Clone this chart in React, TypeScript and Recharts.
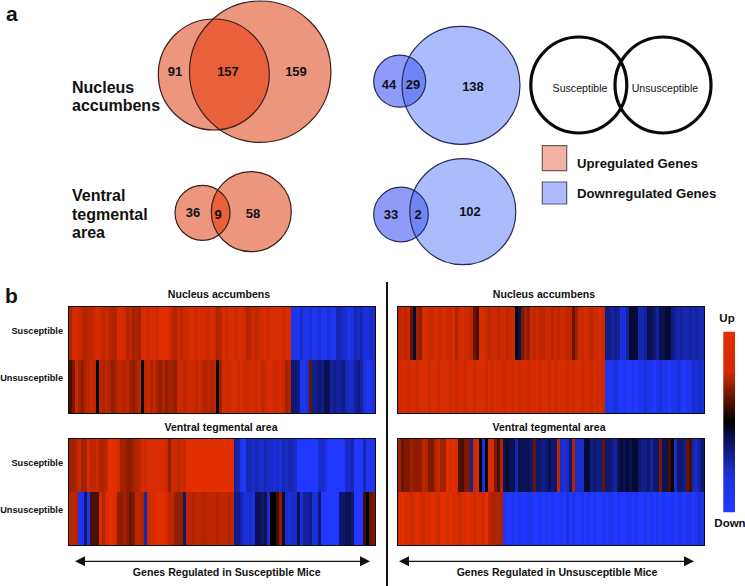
import React from "react";
import {
  BarChart, Bar, Cell, XAxis, YAxis, ScatterChart, Scatter, ReferenceArea, ReferenceLine,
} from "recharts";

// ---------- data ----------
const vennOnlyFirst = [91, 36, 44, 33];
const vennShared = [157, 9, 29, 2];
const vennOnlySecond = [159, 58, 138, 102];
const regionLabels = ["Nucleus accumbens", "Ventral tegmental area"];
const rowLabels = ["Susceptible", "Unsusceptible"];
const legendLabels = ["Upregulated Genes", "Downregulated Genes"];
const axisCaptions = ["Genes Regulated in Susceptible Mice", "Genes Regulated in Unsusceptible Mice"];

const nacSusS = [6,9,9,8,7,6,7,7,8,9,8,7,8,7,6,6,9,9,8,6,7,5,6,5,9,9,8,9,9,8,10,10,10,9,7,6,8,7,8,8,9,9,8,9,9,9,8,9,8,6,7,9,8,9,9,8,9,9,8,6,7,8,7,8,9,9,8,9,9,9,9,8,9,9,
  -9,-9,-9,-7,-9,-9,-8,-9,-9,-8,-9,-9,-8,-9,-9,-6,-6,-7,-8,-9,-8,-6,-7,-6,-8,-8,-7,-7];
const nacSusU = [1,3,8,5,4,6,7,8,7,0,7,6,7,6,4,5,7,7,6,7,5,4,5,7,0,7,8,6,7,5,4,6,4,5,5,4,8,8,7,8,8,8,7,8,7,6,7,6,7,0,5,9,8,8,9,9,8,9,8,8,9,9,8,9,7,8,9,9,8,8,9,8,5,6,
  -3,-3,-4,-9,-9,-8,2,-4,-4,-3,-4,-2,-2,-5,-4,-5,-5,-4,-6,-7,-7,-5,-4,-5,-8,-9,-9,-8];
const vtaSusS = [5,5,6,8,5,5,9,7,7,8,6,6,7,10,10,10,9,5,5,4,4,5,6,7,9,8,9,9,9,9,9,9,8,4,8,8,7,8,8,10,10,10,10,10,10,10,10,10,10,10,10,10,10,10,10,
  -5,-6,-9,-10,-6,-6,-7,-6,-7,-7,-6,-7,-7,-8,-7,-8,-6,-7,-6,-6,-7,-10,-10,-10,-10,-10,-10,-10,-7,-7,-8,-10,-10,-10,-10,-10,-10,-7,-7,-6,-10,-10,-10,-6,-9,-9,-9];
const vtaSusU = [7,7,6,-9,-9,-3,-9,1,1,1,9,6,9,10,10,9,4,4,5,4,2,3,7,7,6,-6,8,9,9,10,10,10,9,7,7,4,4,4,-3,7,7,6,7,7,6,6,7,7,7,6,7,7,7,6,7,
  -4,-4,-6,-8,-8,-7,-8,-2,-2,-3,-2,-7,0,0,1,4,-1,-7,-8,-7,-7,-2,-8,-5,-5,-4,-8,-8,-3,-10,-10,-10,-10,-10,-10,-3,-3,-2,-2,-3,-10,-10,-10,1,0,2,3];
const nacUnsS = [7,8,7,8,2,-1,5,4,9,9,8,8,9,8,8,9,8,8,9,6,8,9,8,8,7,2,1,9,9,8,7,8,8,7,8,8,7,8,8,0,-2,3,5,4,8,7,8,7,7,8,8,7,8,7,8,8,7,7,2,5,8,8,9,8,7,8,8,9,8,
  -4,-4,-5,-4,-5,-8,-8,-5,-1,-1,-1,-6,-6,-5,-2,-2,-3,-5,-2,-2,-1,-1,-4,-5,-6,-5,-6,-6,-5,-6,-5,-6,-6];
const nacUnsU = [8,9,9,8,9,9,8,9,9,9,8,9,9,8,9,9,9,8,9,8,9,9,8,9,9,8,9,9,9,8,9,8,9,9,9,8,9,9,8,9,8,9,9,8,9,9,9,8,9,9,8,9,8,9,9,9,8,9,8,9,9,8,9,9,8,9,8,9,8,
  -9,-9,-9,-8,-9,-10,-9,-10,-10,-9,-10,-9,-9,-8,-9,-9,-10,-9,-8,-9,-9,-10,-9,-9,-8,-9,-10,-9,-9,-7,-8,-7,-8];
const vtaUnsS = [5,2,3,3,5,4,4,4,7,6,3,3,6,8,5,5,10,9,10,9,1,1,3,3,-5,8,9,0,-8,0,9,9,3,1,6,
  -2,-1,-2,-2,-6,-2,-2,-2,-2,-3,2,-3,-3,-4,-3,-2,-3,-3,7,-7,-8,-7,-3,6,-7,-7,-7,-1,-1,-4,-3,-4,-4,2,-3,-3,-4,-5,-2,-1,-2,-1,-2,-1,-1,-3,-4,-4,-3,-5,-3,-3,3,-2,-2,1,0,-7,-3,-3,-4,2,1,-6,-7,-5,-3];
const vtaUnsU = [9,10,9,9,8,9,10,9,8,9,9,10,9,8,10,10,9,10,9,9,8,9,9,10,9,8,9,9,8,10,7,6,6,6,5,
  -9,-10,-10,-9,-10,-9,-10,-10,-9,-9,-10,-10,-9,-10,-9,-10,-9,-10,-10,-9,-10,-8,-10,-9,-10,-10,-9,-10,-9,-10,-9,-10,-10,-9,-10,-9,-9,-10,-9,-10,-10,-9,-9,-10,-9,-10,-10,-9,-10,-9,-10,-9,-10,-9,-10,-10,-9,-10,-9,-9,-10,-9,-9,-10,-9,-8,-9];

// ---------- layout and style ----------
const W = 745;
const H = 586;
const FONT = "'Liberation Sans', Arial, sans-serif";
const UP = { first: "#EC967E", second: "#EC967E", both: "#E8603C", line: "#3a1f18" };
const DOWN = { first: "#8E9BF8", second: "#ABBCFD", both: "#6F84F5", line: "#262c55" };

const vennLayout = [
  { x: 213.8, y: 74.5, r: 55.5, x2: 260.2, y2: 71.7, r2: 70.7, pal: UP, t: [[175, 71], [228, 71], [296, 71]] },
  { x: 202.5, y: 212.8, r: 27.5, x2: 251.3, y2: 211.7, r2: 40, pal: UP, t: [[193, 212], [218, 214], [253, 213]] },
  { x: 399.7, y: 81.2, r: 26, x2: 461, y2: 85.3, r2: 59, pal: DOWN, t: [[389, 84], [413, 84], [473, 86]] },
  { x: 401, y: 214.5, r: 27.3, x2: 462.8, y2: 211.7, r2: 53, pal: DOWN, t: [[391, 214], [418, 214], [470, 211]] },
];

const vennPoints = vennLayout.map((v, i) => ({ ...v, id: i }));

const VennShape = (p: any) => {
  const v = p.payload;
  const clip = `venn-clip-${v.id}`;
  return (
    <g>
      <defs>
        <clipPath id={clip}><circle cx={v.x} cy={v.y} r={v.r} /></clipPath>
      </defs>
      <circle cx={v.x} cy={v.y} r={v.r} fill={v.pal.first} />
      <circle cx={v.x2} cy={v.y2} r={v.r2} fill={v.pal.second} />
      <circle cx={v.x2} cy={v.y2} r={v.r2} fill={v.pal.both} clipPath={`url(#${clip})`} />
      <circle cx={v.x} cy={v.y} r={v.r} fill="none" stroke={v.pal.line} strokeWidth={1.2} />
      <circle cx={v.x2} cy={v.y2} r={v.r2} fill="none" stroke={v.pal.line} strokeWidth={1.2} />
    </g>
  );
};

const RingShape = (p: any) => (
  <circle cx={p.cx} cy={p.cy} r={48} fill="none" stroke="#0a0a0a" strokeWidth={3.2} />
);

const ArrowShape = (p: any) => {
  const { cy } = p;
  const { x1, x2 } = p.payload;
  return (
    <g fill="#111" stroke="none">
      <line x1={x1 + 6} x2={x2 - 6} y1={cy} y2={cy} stroke="#111" strokeWidth={1.2} />
      <polygon points={`${x1},${cy} ${x1 + 10},${cy - 5} ${x1 + 10},${cy + 5}`} />
      <polygon points={`${x2},${cy} ${x2 - 10},${cy - 5} ${x2 - 10},${cy + 5}`} />
    </g>
  );
};

const TextShape = (p: any) => {
  const d = p.payload;
  return (
    <text
      x={p.cx}
      y={p.cy}
      fontFamily={FONT}
      fontSize={d.size}
      fontWeight={d.bold === false ? 400 : 700}
      textAnchor={d.anchor || "middle"}
      fill="#111"
    >
      {d.text}
    </text>
  );
};

const mid = (y: number, size: number) => y + size * 0.36;

const vennTexts = vennLayout.flatMap((v, i) => {
  const vals = [vennOnlyFirst[i], vennShared[i], vennOnlySecond[i]];
  return v.t.map(([x, y], k) => ({ x, y: mid(y, 13), text: String(vals[k]), size: 13 }));
});

const annotations = [
  { x: 6, y: 21, text: "a", size: 21, anchor: "start" },
  { x: 5, y: 303, text: "b", size: 21, anchor: "start" },
  { x: 72, y: 92.5, text: "Nucleus", size: 16, anchor: "start" },
  { x: 72, y: 111, text: "accumbens", size: 16, anchor: "start" },
  { x: 72, y: 201, text: "Ventral", size: 16, anchor: "start" },
  { x: 72, y: 219.5, text: "tegmental", size: 16, anchor: "start" },
  { x: 72, y: 237.5, text: "area", size: 16, anchor: "start" },
  { x: 580, y: mid(88, 10.6), text: rowLabels[0], size: 10.6, bold: false },
  { x: 665, y: mid(88, 10.6), text: rowLabels[1], size: 10.6, bold: false },
  { x: 577, y: 167.5, text: legendLabels[0], size: 13.2, anchor: "start" },
  { x: 577, y: 198, text: legendLabels[1], size: 13.2, anchor: "start" },
  { x: 219, y: mid(294, 10.6), text: regionLabels[0], size: 10.6 },
  { x: 221, y: mid(427, 10.6), text: regionLabels[1], size: 10.6 },
  { x: 544, y: mid(294, 10.6), text: regionLabels[0], size: 10.6 },
  { x: 549, y: mid(427, 10.6), text: regionLabels[1], size: 10.6 },
  { x: 226.7, y: mid(571.7, 10.6), text: axisCaptions[0], size: 10.6 },
  { x: 557, y: mid(571.7, 10.6), text: axisCaptions[1], size: 10.6 },
  { x: 727, y: mid(318, 11.5), text: "Up", size: 11.5 },
  { x: 730, y: mid(523, 11.5), text: "Down", size: 11.5 },
];

const rings = [{ x: 578.8, y: 85 }, { x: 663, y: 85 }];
const arrows = [
  { x: 222, y: 561.3, x1: 75, x2: 370 },
  { x: 546, y: 561.3, x1: 399, x2: 694 },
];

const heatColor = (v: number) => {
  const a = Math.abs(v) / 10;
  const t = Math.pow(a, v >= 0 ? 0.5 : 0.7);
  const c = v >= 0 ? [227 * t, 46 * t, 0] : [32 * t, 56 * t, 255 * t];
  return `rgb(${Math.round(c[0])},${Math.round(c[1])},${Math.round(c[2])})`;
};

type HeatProps = { s: number[]; u: number[]; left: number; top: number; labels?: boolean };

const Heat = ({ s, u, left, top, labels }: HeatProps) => {
  const rows = s.map((v, i) => ({ gene: i, rowS: 1, rowU: 1, s: v, u: u[i] }));
  const axisW = labels ? 69 : 2;
  return (
    <div style={{ position: "absolute", left, top }}>
      <div style={{ position: "absolute", left: axisW, top: 2, width: 306, height: 106, background: "#301008" }} />
      <div style={{ position: "absolute", left: 0, top: 0 }}>
        <BarChart
          width={axisW + 306 + 2}
          height={110}
          data={rows}
          margin={{ top: 2, right: 2, bottom: 2, left: 0 }}
          barCategoryGap={0}
          barGap={0}
        >
          <XAxis dataKey="gene" hide />
          <YAxis
            type="number"
            domain={[0, 2]}
            width={axisW}
            ticks={labels ? [0.66, 1.56] : []}
            interval={0}
            tickLine={false}
            axisLine={false}
            tickMargin={6}
            tickSize={0}
            tickFormatter={(t: number) => (t < 1 ? rowLabels[1] : rowLabels[0])}
            tick={{ fontFamily: FONT, fontSize: 9.2, fontWeight: 700, fill: "#111" }}
          />
          <Bar dataKey="rowU" stackId="g" isAnimationActive={false}>
            {rows.map((r) => <Cell key={r.gene} fill={heatColor(r.u)} />)}
          </Bar>
          <Bar dataKey="rowS" stackId="g" isAnimationActive={false}>
            {rows.map((r) => <Cell key={r.gene} fill={heatColor(r.s)} />)}
          </Bar>
          <ReferenceArea y1={0} y2={2} fill="none" stroke="#0c0c14" strokeWidth={2} ifOverflow="visible" />
        </BarChart>
      </div>
    </div>
  );
};

export default function App() {
  return (
    <div style={{ position: "absolute", left: 0, top: 0, width: W, height: H, background: "#fff" }}>
      <style>{`.recharts-bar-rectangles{filter:blur(0.5px)}`}</style>
      <div style={{ position: "absolute", left: 0, top: 0 }}>
        <ScatterChart width={W} height={H} margin={{ top: 0, right: 0, bottom: 0, left: 0 }}>
          <defs>
            <linearGradient id="cbar" x1="0" y1="0" x2="0" y2="1">
              <stop offset="0%" stopColor="#E32E00" />
              <stop offset="22%" stopColor="#D42A00" />
              <stop offset="42%" stopColor="#3a0c00" />
              <stop offset="50%" stopColor="#000000" />
              <stop offset="58%" stopColor="#0a0c50" />
              <stop offset="80%" stopColor="#1c32d8" />
              <stop offset="100%" stopColor="#2038FF" />
            </linearGradient>
          </defs>
          <XAxis type="number" dataKey="x" domain={[0, W]} hide />
          <YAxis type="number" dataKey="y" domain={[0, H]} reversed hide />
          <ReferenceArea x1={542.3} x2={566.7} y1={145.7} y2={170.7} fill="#F2B3A2" fillOpacity={1} stroke="#6b5a55" strokeWidth={1.2} />
          <ReferenceArea x1={542.3} x2={566.7} y1={182} y2={204} fill="#ADBBFD" fillOpacity={1} stroke="#555a70" strokeWidth={1.2} />
          <ReferenceArea x1={723.3} x2={735} y1={331.7} y2={512.3} fill="url(#cbar)" fillOpacity={1} stroke="none" />
          <ReferenceLine segment={[{ x: 387, y: 282 }, { x: 387, y: 586 }]} stroke="#111" strokeWidth={2} />
          <Scatter data={vennPoints} shape={VennShape} isAnimationActive={false} />
          <Scatter data={rings} shape={RingShape} isAnimationActive={false} />
          <Scatter data={arrows} shape={ArrowShape} isAnimationActive={false} />
          <Scatter data={vennTexts} shape={TextShape} isAnimationActive={false} />
          <Scatter data={annotations} shape={TextShape} isAnimationActive={false} />
        </ScatterChart>
      </div>
      <Heat s={nacSusS} u={nacSusU} left={0} top={305} labels />
      <Heat s={vtaSusS} u={vtaSusU} left={0} top={437} labels />
      <Heat s={nacUnsS} u={nacUnsU} left={396} top={305} />
      <Heat s={vtaUnsS} u={vtaUnsU} left={396} top={437} />
    </div>
  );
}
